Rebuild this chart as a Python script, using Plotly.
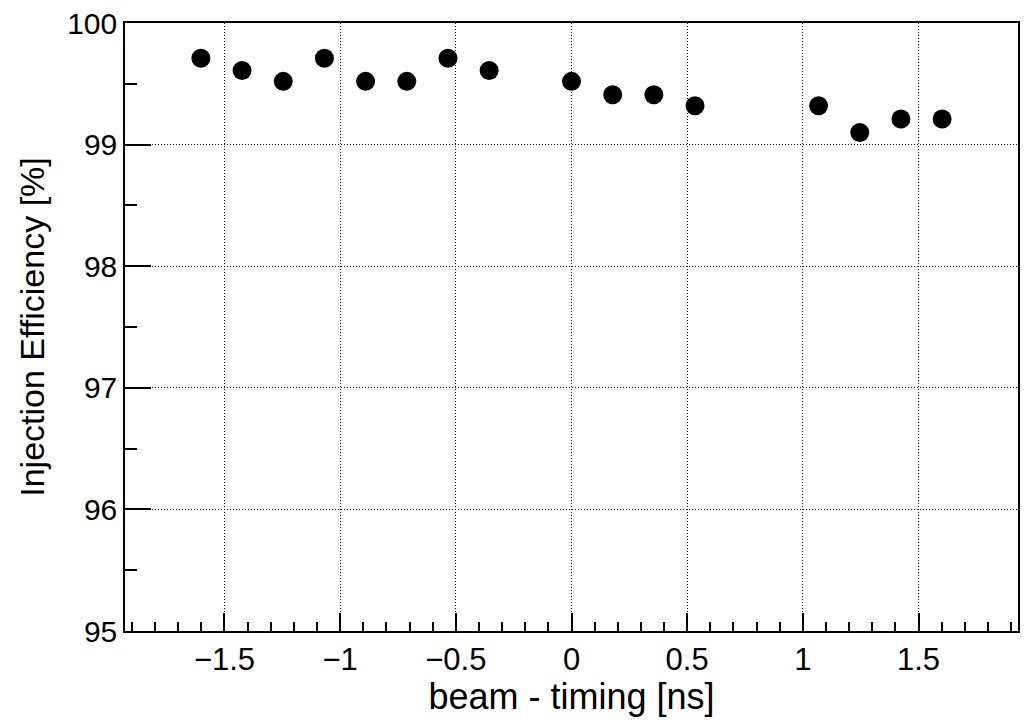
import plotly.graph_objects as go

timing_ns = [-1.602, -1.424, -1.246, -1.068, -0.890, -0.712, -0.534, -0.356,
             0.0, 0.178, 0.356, 0.534, 1.068, 1.246, 1.424, 1.602]
efficiency = [99.71, 99.61, 99.52, 99.71, 99.52, 99.52, 99.71, 99.61,
              99.52, 99.41, 99.41, 99.32, 99.32, 99.10, 99.21, 99.21]

x_title = "beam - timing [ns]"
y_title = "Injection Efficiency [%]"

FONT = "Liberation Sans, Arial, Helvetica, sans-serif"

fig = go.Figure()
fig.add_trace(go.Scatter(
    x=timing_ns, y=efficiency, mode="markers",
    marker=dict(color="black", size=19, symbol="circle"),
    showlegend=False,
))

# page body has an 8px default margin, so the figure is offset by 8px
fig.update_layout(
    width=1017, height=709,
    margin=dict(l=117, r=7, t=15, b=86),
    paper_bgcolor="white", plot_bgcolor="white",
    font=dict(family=FONT, color="black", size=30),
)

fig.update_xaxes(
    automargin=False,
    range=[-1.93, 1.93],
    tickmode="array", tickvals=[-1.5, -1, -0.5, 0, 0.5, 1, 1.5],
    ticktext=["\u22121.5", "\u22121", "\u22120.5", "0", "0.5", "1", "1.5"],
    ticks="inside", ticklen=18, tickwidth=1.5, tickcolor="black",
    minor=dict(dtick=0.1, tick0=0, ticks="inside", ticklen=9, tickwidth=1.5,
               tickcolor="black", showgrid=False),
    showline=True, linecolor="black", linewidth=1.5, mirror=True,
    showgrid=True, gridcolor="black", griddash="1px,2px", gridwidth=1,
    zeroline=False,
    tickfont=dict(size=31),
    ticklabeloverflow="allow",
    title=dict(text=x_title, font=dict(size=36), standoff=8),
)

fig.update_yaxes(
    automargin=False,
    range=[95, 100],
    tickmode="array", tickvals=[95, 96, 97, 98, 99, 100],
    ticks="inside", ticklen=26, tickwidth=1.5, tickcolor="black",
    minor=dict(dtick=0.5, tick0=95, ticks="inside", ticklen=12, tickwidth=1.5,
               tickcolor="black", showgrid=False),
    showline=True, linecolor="black", linewidth=1.5, mirror=True,
    showgrid=True, gridcolor="black", griddash="1px,2px", gridwidth=1,
    zeroline=False,
    tickfont=dict(size=30),
    ticklabeloverflow="allow",
    title=dict(text=y_title, font=dict(size=34), standoff=12),
)

fig.write_html("out.html")
